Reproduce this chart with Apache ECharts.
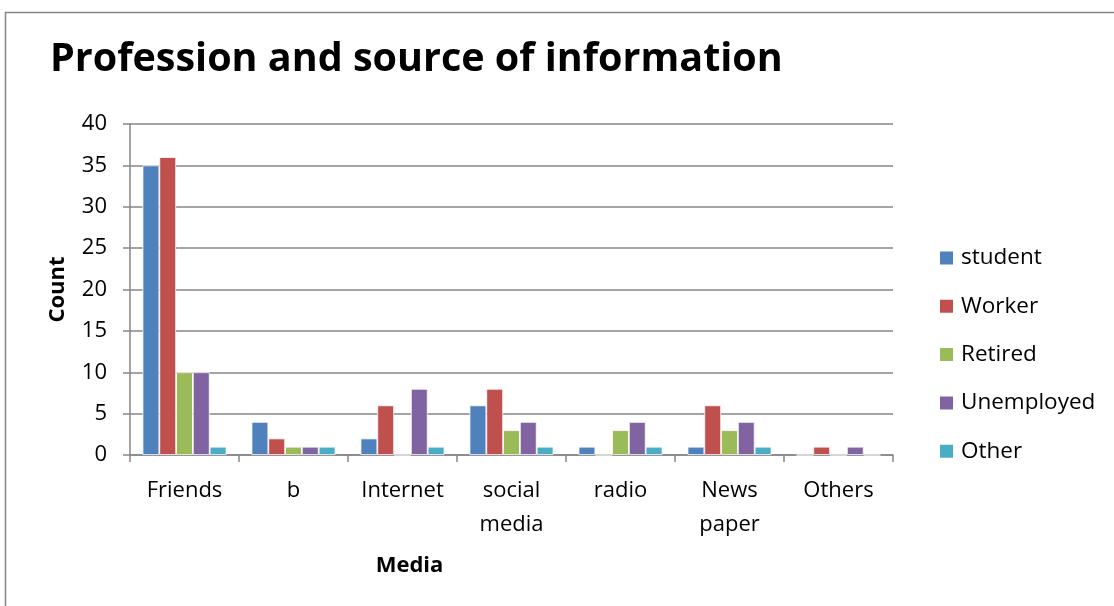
<!DOCTYPE html>
<html>
<head>
<meta charset="utf-8">
<script src="https://cdn.jsdelivr.net/npm/echarts@6/dist/echarts.min.js"></script>
<style>
  html, body { margin: 0; padding: 0; background: #ffffff; }
  #chart { width: 1114px; height: 606px; }
</style>
</head>
<body>
<div id="chart"></div>
<script>
// Media categories (x axis)
const categories = ['Friends', 'b', 'Internet', 'social\nmedia', 'radio', 'News\npaper', 'Others'];

// Counts per profession
const student    = [35, 4, 2, 6, 1, 1, 0];
const worker     = [36, 2, 6, 8, 0, 6, 1];
const retired    = [10, 1, 0, 3, 3, 3, 0];
const unemployed = [10, 1, 8, 4, 4, 4, 1];
const other      = [1, 1, 1, 1, 1, 1, 0];

const seriesNames = ['student', 'Worker', 'Retired', 'Unemployed', 'Other'];
const seriesData = [student, worker, retired, unemployed, other];
const colors = ['#4F81BD', '#C0504D', '#9BBB59', '#8064A2', '#4BACC6'];

const FONT = '"Open Sans", "Noto Sans", sans-serif';
const AXIS_GREY = '#868686';

const chart = echarts.init(document.getElementById('chart'), null, { renderer: 'canvas' });

chart.setOption({
  backgroundColor: '#ffffff',
  animation: false,
  color: colors,
  title: {
    text: 'Profession and source of information',
    left: 45,
    top: 35,
    textStyle: { fontFamily: FONT, fontWeight: 'bold', fontSize: 39.5, color: '#000000' }
  },
  graphic: [{
    type: 'rect',
    shape: { x: 5.5, y: 12.5, width: 1120, height: 620 },
    style: { fill: null, stroke: AXIS_GREY, lineWidth: 1.5 },
    silent: true
  }],
  legend: {
    orient: 'vertical',
    left: 933,
    top: 241,
    itemWidth: 15,
    itemHeight: 15,
    itemGap: 24.3,
    icon: 'rect',
    data: seriesNames,
    textStyle: { fontFamily: FONT, fontSize: 22.5, lineHeight: 24, color: '#000000', padding: [0, 0, 0, 2] }
  },
  grid: { left: 130, right: 221, top: 124, bottom: 151, containLabel: false },
  xAxis: {
    type: 'category',
    data: categories,
    name: 'Media',
    nameLocation: 'middle',
    nameGap: 100,
    // axis title sits left of the plot centre
    nameTextStyle: { fontFamily: FONT, fontWeight: 'bold', fontSize: 22, color: '#000000', padding: [0, 204, 0, 0] },
    axisLine: { lineStyle: { color: AXIS_GREY, width: 1.5 } },
    axisTick: { show: true, length: 7, alignWithLabel: false, lineStyle: { color: AXIS_GREY, width: 1.5 } },
    axisLabel: { fontFamily: FONT, fontSize: 22, color: '#000000', margin: 19, lineHeight: 34, interval: 0 },
    splitLine: { show: false }
  },
  yAxis: {
    type: 'value',
    min: 0,
    max: 40,
    interval: 5,
    name: 'Count',
    nameLocation: 'middle',
    nameGap: 61,
    nameRotate: 90,
    nameTextStyle: { fontFamily: FONT, fontWeight: 'bold', fontSize: 22, color: '#000000' },
    axisLine: { show: true, lineStyle: { color: AXIS_GREY, width: 1.5 } },
    axisTick: { show: true, length: 7, lineStyle: { color: AXIS_GREY, width: 1.5 } },
    axisLabel: { fontFamily: FONT, fontSize: 22, color: '#000000', margin: 23 },
    splitLine: { show: true, lineStyle: { color: AXIS_GREY, width: 1.5 } }
  },
  series: seriesData.map((d, i) => ({
    name: seriesNames[i],
    type: 'bar',
    data: d,
    barGap: '0%',
    barCategoryGap: '23%',
    itemStyle: { color: colors[i], borderColor: '#ffffff', borderWidth: 0.8 }
  }))
});
</script>
</body>
</html>
